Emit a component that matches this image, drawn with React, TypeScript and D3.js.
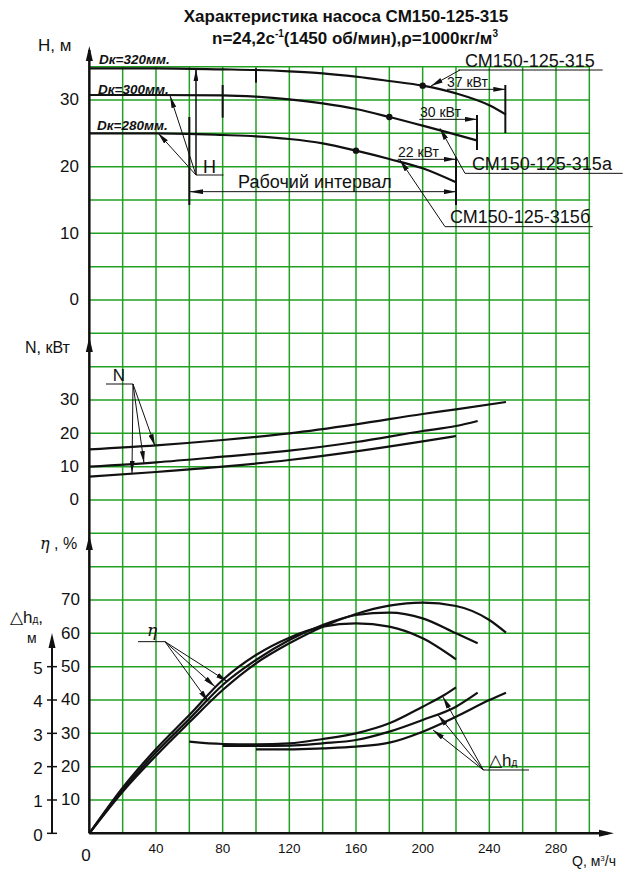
import * as d3 from 'd3';

// Q grid / ticks
const GRID_Q = d3.range(20, 301, 20);
const GRID_ROWS = d3.range(10, 231, 10); // in eta units, covers whole sheet
const X_TICKS = [40, 80, 120, 160, 200, 240, 280];
const H_TICKS = [0, 10, 20, 30];
const N_TICKS = [0, 10, 20, 30];
const ETA_TICKS = [10, 20, 30, 40, 50, 60, 70];
const DH_TICKS = [0, 1, 2, 3, 4, 5];

// H(Q)
const Q_H320 = [0, 40, 80, 100, 120, 140, 160, 180, 200, 220, 240, 250];
const H320 = [34.75, 34.75, 34.6, 34.5, 34.3, 34.0, 33.5, 32.85, 32.15, 31.0, 29.2, 27.8];
const Q_H300 = [0, 40, 80, 100, 120, 140, 160, 180, 200, 220, 233];
const H300 = [30.75, 30.75, 30.7, 30.5, 30.1, 29.5, 28.65, 27.45, 26.15, 24.8, 23.9];
const Q_H280 = [0, 40, 80, 100, 120, 140, 160, 180, 200, 220];
const H280 = [25.0, 25.0, 24.75, 24.55, 24.15, 23.5, 22.4, 21.15, 19.75, 17.65];

// N(Q)
const Q_N320 = [0, 40, 80, 120, 160, 200, 220, 250];
const N320 = [15.2, 16.4, 18.0, 20.0, 22.7, 25.8, 27.2, 29.4];
const Q_N300 = [0, 40, 80, 120, 160, 200, 220, 233];
const N300 = [10, 11.3, 13, 14.8, 17.4, 20.7, 22.2, 23.7];
const Q_N280 = [0, 40, 80, 120, 160, 200, 220];
const N280 = [7, 8.4, 10, 12, 14.6, 17.6, 19.2];

// eta(Q)
const Q_E320 = [0, 20, 40, 60, 80, 100, 120, 140, 160, 180, 200, 220, 240, 250];
const E320 = [0, 12.5, 23.3, 33.3, 43, 51, 57, 62, 65.8, 68.3, 69.2, 68.2, 64, 60.2];
const Q_E300 = [0, 20, 40, 60, 80, 100, 120, 140, 160, 180, 200, 220, 233];
const E300 = [0, 13, 24.3, 34.3, 44.5, 52, 58, 62.5, 65.5, 66.2, 64.5, 60, 57];
const Q_E280 = [0, 20, 40, 60, 80, 100, 120, 140, 160, 180, 200, 220];
const E280 = [0, 13.7, 25.3, 35.5, 46, 53.5, 58.7, 62, 63, 62, 58.5, 52.2];

// NPSH (delta h)
const Q_D280 = [60, 80, 100, 120, 140, 160, 180, 200, 213, 220];
const D280 = [2.75, 2.68, 2.67, 2.7, 2.83, 3.0, 3.3, 3.8, 4.15, 4.38];
const Q_D300 = [80, 100, 120, 140, 160, 180, 200, 220, 233];
const D300 = [2.62, 2.62, 2.63, 2.7, 2.8, 3.05, 3.4, 3.8, 4.22];
const Q_D320 = [100, 120, 140, 160, 180, 200, 220, 240, 250];
const D320 = [2.52, 2.52, 2.55, 2.6, 2.72, 3.05, 3.5, 4.0, 4.22];

// duty points on H curves
const DUTY = [
  { q: 200, h: 32.15 },
  { q: 180, h: 27.45 },
  { q: 160, h: 22.4 },
];

const GREEN = '#22a022';
const INK = '#111';
const FONT = '"Liberation Sans", Arial, sans-serif';

const x = d3.scaleLinear().domain([0, 300]).range([89.33, 589.33]);
const yH = d3.scaleLinear().domain([0, 35]).range([300, 66.67]);
const yN = d3.scaleLinear().domain([0, 30]).range([500, 400]);
const yE = d3.scaleLinear().domain([0, 70]).range([833.33, 600]);
const yD = d3.scaleLinear().domain([0, 5]).range([833.33, 666.67]);

function curve(qs: number[], vs: number[], y: d3.ScaleLinear<number, number>) {
  const pts = qs.map((q, i) => [q, vs[i]] as [number, number]);
  return d3.line<[number, number]>()
    .x(d => x(d[0]))
    .y(d => y(d[1]))
    .curve(d3.curveMonotoneX)(pts) || '';
}

function upArrow(cx: number, tip: number) {
  return `M${cx},${tip} L${cx - 3.5},${tip + 15} L${cx + 3.5},${tip + 15} Z`;
}

export default function App() {
  const x0 = x(0);
  const yBase = yE(0);
  const curves = [
    curve(Q_H320, H320, yH), curve(Q_H300, H300, yH), curve(Q_H280, H280, yH),
    curve(Q_N320, N320, yN), curve(Q_N300, N300, yN), curve(Q_N280, N280, yN),
    curve(Q_E320, E320, yE), curve(Q_E300, E300, yE), curve(Q_E280, E280, yE),
    curve(Q_D280, D280, yD), curve(Q_D300, D300, yD), curve(Q_D320, D320, yD),
  ];
  const dhX = 52;

  // helper for thin annotation lines
  const thin = { stroke: INK, strokeWidth: 1 };
  const bar = { stroke: INK, strokeWidth: 2 };

  return (
    <div style={{ position: 'absolute', left: 0, top: 0 }}>
      <svg width={638} height={874} style={{ display: 'block', background: '#fff' }} fontFamily={FONT}>
        <defs>
          <marker id="arr" viewBox="0 0 12 5" refX={12} refY={2.5} markerWidth={12} markerHeight={5}
            markerUnits="userSpaceOnUse" orient="auto">
            <path d="M0,0 L12,2.5 L0,5 Z" fill={INK} />
          </marker>
          <marker id="arrS" viewBox="0 0 14 5" refX={0} refY={2.5} markerWidth={14} markerHeight={5}
            markerUnits="userSpaceOnUse" orient="auto">
            <path d="M14,0 L0,2.5 L14,5 Z" fill={INK} />
          </marker>
        </defs>

        {/* grid */}
        <g stroke={GREEN} strokeWidth={1.5}>
          {GRID_ROWS.map(v => (
            <line key={'r' + v} x1={x0} x2={x(300)} y1={yE(v)} y2={yE(v)} />
          ))}
          {GRID_Q.map(q => (
            <line key={'c' + q} x1={x(q)} x2={x(q)} y1={yE(230)} y2={yBase} />
          ))}
        </g>

        {/* title */}
        <text x={346} y={22} textAnchor="middle" fontWeight="bold" fontSize={17} fill={INK}>
          Характеристика насоса СМ150-125-315
        </text>
        <text x={355} y={44} textAnchor="middle" fontWeight="bold" fontSize={17} fill={INK}>
          n=24,2с<tspan fontSize={10} dy={-7}>-1</tspan>
          <tspan dy={7}>(1450 об/мин),ρ=1000кг/м</tspan>
          <tspan fontSize={10} dy={-7}>3</tspan>
        </text>

        {/* main axes */}
        <line x1={x0} x2={x0} y1={yBase} y2={50} stroke={INK} strokeWidth={2.5} />
        <path d={upArrow(x0, 46)} fill={INK} />
        <path d={upArrow(x0, 337)} fill={INK} />
        <path d={upArrow(x0, 535)} fill={INK} />
        <line x1={x0} x2={608} y1={yBase} y2={yBase} stroke={INK} strokeWidth={2.5} />
        <path d={`M614,${yBase} L599,${yBase - 3.5} L599,${yBase + 3.5} Z`} fill={INK} />

        {/* delta h axis */}
        <line x1={dhX} x2={dhX} y1={yBase} y2={640} stroke={INK} strokeWidth={2} />
        <path d={upArrow(dhX, 633)} fill={INK} />
        {DH_TICKS.map(v => (
          <g key={'d' + v}>
            <line x1={dhX - 5} x2={dhX + 5} y1={yD(v)} y2={yD(v)} stroke={INK} strokeWidth={1.5} />
            <text x={38} y={yD(v) + 3} textAnchor="middle" dominantBaseline="middle" fontSize={17} fill={INK}>{v}</text>
          </g>
        ))}

        {/* tick labels */}
        <g fontSize={17} fill={INK} textAnchor="end">
          {H_TICKS.map(v => (
            <text key={'h' + v} x={79} y={yH(v) + 1} dominantBaseline="middle">{v}</text>
          ))}
          {N_TICKS.map(v => (
            <text key={'n' + v} x={79} y={yN(v) + 1} dominantBaseline="middle">{v}</text>
          ))}
          {ETA_TICKS.map(v => (
            <text key={'e' + v} x={80} y={yE(v) + 1} dominantBaseline="middle">{v}</text>
          ))}
        </g>
        <g fontSize={13.5} fill={INK} textAnchor="middle">
          {X_TICKS.map(q => (
            <text key={'x' + q} x={x(q)} y={853}>{q}</text>
          ))}
        </g>
        <text x={86} y={861} textAnchor="middle" fontSize={17} fill={INK}>0</text>

        {/* axis titles */}
        <text x={38} y={51} fontSize={17} fill={INK}>H, м</text>
        <text x={25} y={353} fontSize={16} fill={INK}>N, кВт</text>
        <text x={40} y={549} fontSize={16} fill={INK}>
          <tspan fontStyle="italic" fontFamily='"DejaVu Serif", serif'>η</tspan> , %
        </text>
        <text x={10} y={623} fontSize={17} fill={INK}>△h<tspan fontSize={10}>д</tspan>,</text>
        <text x={27} y={643} fontSize={14} fill={INK}>м</text>
        <text x={572} y={866} fontSize={14} fill={INK}>Q, м<tspan fontSize={8} dy={-5}>3</tspan><tspan dy={5}>/ч</tspan></text>

        {/* curves */}
        <g fill="none" stroke={INK} strokeWidth={2.2}>
          {curves.map((d, i) => <path key={'p' + i} d={d} />)}
        </g>
        {DUTY.map((p, i) => (
          <circle key={'dp' + i} cx={x(p.q)} cy={yH(p.h)} r={3.2} fill={INK} />
        ))}

        {/* Dk labels */}
        <g fontSize={13.5} fontWeight="bold" fontStyle="italic" fill={INK}>
          <text x={99} y={64}>Dк=320мм.</text>
          <text x={98} y={94}>Dк=300мм.</text>
          <text x={97} y={130}>Dк=280мм.</text>
        </g>

        {/* H-section marks */}
        <line x1={x(100)} x2={x(100)} y1={yH(34.75)} y2={yH(32.6)} {...bar} />
        <line x1={x(80)} x2={x(80)} y1={yH(32.25)} y2={yH(27.35)} {...bar} />
        <line x1={x(60)} x2={x(60)} y1={yH(27.45)} y2={yH(14.25)} {...bar} />
        <line x1={x(220)} x2={x(220)} y1={yH(21.45)} y2={yH(14.25)} {...bar} />
        <line x1={x(249.6)} x2={x(249.6)} y1={yH(32.25)} y2={yH(25.05)} {...bar} />
        <line x1={x(232.6)} x2={x(232.6)} y1={yH(27.75)} y2={yH(22.5)} {...bar} />

        {/* H pointer */}
        <line x1={x(64)} x2={x(64)} y1={yH(18.75)} y2={yH(34.6)} stroke={INK} strokeWidth={1.5} markerEnd="url(#arr)" />
        <line x1={x(64)} x2={x(80.5)} y1={yH(18.75)} y2={yH(18.75)} {...thin} />
        <line x1={x(64)} x2={x(48.5)} y1={yH(18.75)} y2={yH(30.6)} {...thin} markerEnd="url(#arr)" />
        <line x1={x(64)} x2={x(41.2)} y1={yH(18.75)} y2={yH(25.05)} {...thin} markerEnd="url(#arr)" />
        <text x={203} y={173} fontSize={18} fill={INK}>H</text>

        {/* working interval */}
        <line x1={x(60)} x2={x(220)} y1={yH(16.25)} y2={yH(16.25)} {...thin}
          markerStart="url(#arrS)" markerEnd="url(#arr)" />
        <text x={315} y={188} textAnchor="middle" fontSize={18} fill={INK}>Рабочий интервал</text>

        {/* power labels */}
        <g fontSize={14} fill={INK}>
          <text x={447} y={87}>37 кВт</text>
          <text x={420} y={117}>30 кВт</text>
          <text x={398} y={157}>22 кВт</text>
        </g>
        <line x1={x(214.6)} x2={x(249.6)} y1={yH(31.6)} y2={yH(31.6)} {...thin} markerEnd="url(#arr)" />
        <line x1={x(198)} x2={x(232.6)} y1={yH(27.1)} y2={yH(27.1)} {...thin} markerEnd="url(#arr)" />
        <line x1={x(185)} x2={x(220)} y1={yH(21.1)} y2={yH(21.1)} {...thin} markerEnd="url(#arr)" />

        {/* pump names */}
        <g fontSize={18} fill={INK}>
          <text x={465} y={67}>СМ150-125-315</text>
          <text x={472} y={170}>СМ150-125-315а</text>
          <text x={450} y={223}>СМ150-125-315б</text>
        </g>
        <line x1={x(221.4)} x2={x(308)} y1={yH(34.5)} y2={yH(34.5)} {...thin} />
        <line x1={x(222.4)} x2={x(205)} y1={yH(34.5)} y2={yH(32.1)} {...thin} markerEnd="url(#arr)" />
        <line x1={x(225.4)} x2={x(320)} y1={yH(19.0)} y2={yH(19.0)} {...thin} />
        <line x1={x(225.4)} x2={x(210.4)} y1={yH(19.0)} y2={yH(25.75)} {...thin} markerEnd="url(#arr)" />
        <line x1={x(213.4)} x2={x(302)} y1={yH(11.0)} y2={yH(11.0)} {...thin} />
        <line x1={x(213.4)} x2={x(186.4)} y1={yH(11.0)} y2={yH(21.0)} {...thin} markerEnd="url(#arr)" />

        {/* N pointer */}
        <text x={119} y={381} textAnchor="middle" fontSize={17} fill={INK}>N</text>
        <line x1={x(10)} x2={x(26.2)} y1={yN(34.8)} y2={yN(34.8)} {...thin} />
        <line x1={x(26.2)} x2={x(39.4)} y1={yN(34.8)} y2={yN(16.2)} {...thin} markerEnd="url(#arr)" />
        <line x1={x(26.2)} x2={x(32.8)} y1={yN(34.8)} y2={yN(11.1)} {...thin} markerEnd="url(#arr)" />
        <line x1={x(26.2)} x2={x(25.6)} y1={yN(34.8)} y2={yN(8.1)} {...thin} markerEnd="url(#arr)" />

        {/* eta pointer */}
        <text x={152} y={636} textAnchor="middle" fontSize={17} fontStyle="italic" fontFamily='"DejaVu Serif", serif' fill={INK}>η</text>
        <line x1={x(29.2)} x2={x(45.4)} y1={yE(57.5)} y2={yE(57.5)} {...thin} />
        <line x1={x(45.4)} x2={x(83)} y1={yE(57.5)} y2={yE(45.5)} {...thin} markerEnd="url(#arr)" />
        <line x1={x(45.4)} x2={x(75.4)} y1={yE(57.5)} y2={yE(44)} {...thin} markerEnd="url(#arr)" />
        <line x1={x(45.4)} x2={x(71.4)} y1={yE(57.5)} y2={yE(39.5)} {...thin} markerEnd="url(#arr)" />

        {/* delta h pointer */}
        <text x={489} y={766} fontSize={17} fill={INK}>△h<tspan fontSize={10}>д</tspan></text>
        <line x1={x(236.4)} x2={x(263.8)} y1={yD(1.9)} y2={yD(1.9)} {...thin} />
        <line x1={x(236.4)} x2={x(212.2)} y1={yD(1.9)} y2={yD(4.09)} {...thin} markerEnd="url(#arr)" />
        <line x1={x(236.4)} x2={x(209.2)} y1={yD(1.9)} y2={yD(3.55)} {...thin} markerEnd="url(#arr)" />
        <line x1={x(236.4)} x2={x(206.2)} y1={yD(1.9)} y2={yD(3.1)} {...thin} markerEnd="url(#arr)" />
      </svg>
    </div>
  );
}
